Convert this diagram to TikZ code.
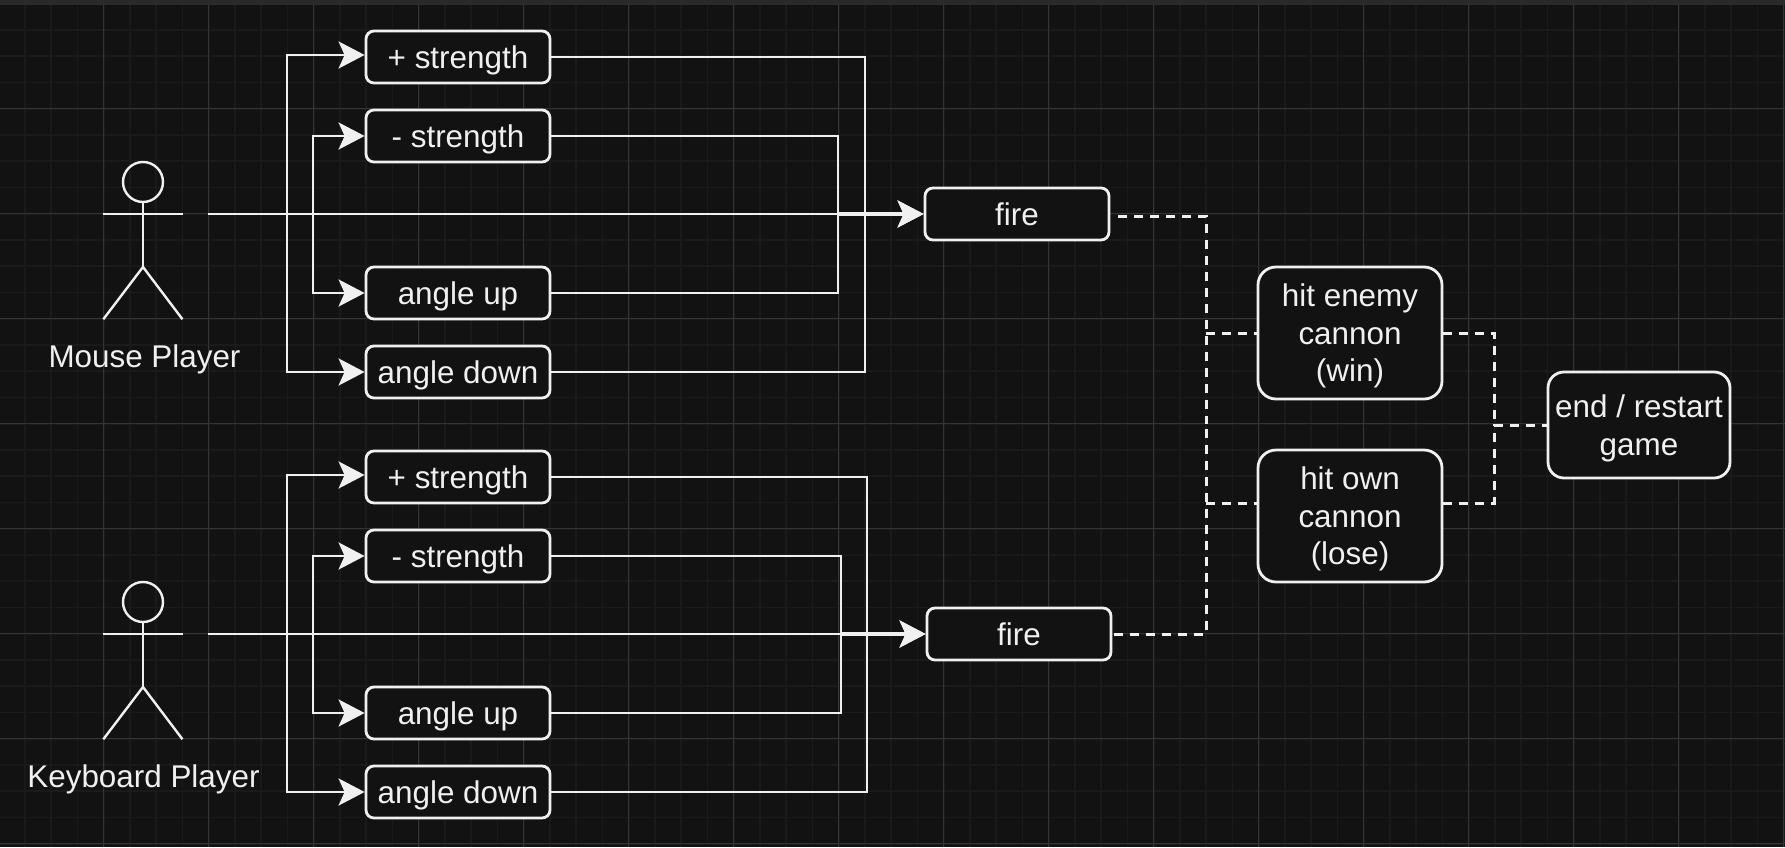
\documentclass[tikz,border=0pt]{standalone}
\usepackage{fontspec}
\setmainfont{Liberation Sans}
\usetikzlibrary{arrows.meta}
\definecolor{bgc}{HTML}{121212}
\definecolor{minorc}{HTML}{1A1A1A}
\definecolor{majorc}{HTML}{343434}
\definecolor{topc}{HTML}{2A2A2A}
\definecolor{ink}{HTML}{F0F0F0}
\newcommand\ls{\rule[-3.4pt]{0pt}{18pt}}
\tikzset{
  x=0.5pt,y=-0.5pt,
  box/.style={draw=ink,fill=bgc,line width=1.4pt,text=ink,inner sep=0pt,align=center,
    font=\fontsize{15.7}{18.8}\selectfont},
  small/.style={box,minimum width=92pt,minimum height=26pt,rounded corners=4pt},
  tall/.style={box,minimum width=92pt,minimum height=66pt,rounded corners=9pt},
  wide/.style={box,minimum width=91pt,minimum height=53pt,rounded corners=8pt},
  conn/.style={draw=ink,line width=1.4pt,-{Stealth[length=13pt,width=13.5pt,inset=3pt,fill=ink]}},
  plain/.style={draw=ink,line width=1.4pt},
  dash line/.style={draw=ink,line width=1.5pt,dash pattern=on 4.5pt off 3.5pt},
  figure/.style={draw=ink,line width=1.2pt},
  actor label/.style={text=ink,inner sep=0pt,font=\fontsize{15.7}{18.8}\selectfont},
}
\begin{document}
\begin{tikzpicture}
\useasboundingbox (0,0) rectangle (1785,847);
\fill[bgc] (0,0) rectangle (1785,847);
\fill[topc] (0,0) rectangle (1785,4.5);
% grid
\foreach \i in {0,...,68}{
  \draw[minorc,line width=0.8pt] ({25+26.25*\i},5) -- ({25+26.25*\i},847);
}
\foreach \i in {0,...,32}{
  \draw[minorc,line width=0.8pt] (0,{30+26.25*\i}) -- (1785,{30+26.25*\i});
}
\foreach \i in {0,...,16}{
  \draw[majorc,line width=0.5pt] ({103.4+105*\i},5) -- ({103.4+105*\i},847);
}
\foreach \i in {0,...,7}{
  \draw[majorc,line width=0.5pt] (0,{108.8+105*\i}) -- (1785,{108.8+105*\i});
}
% boxes, mouse player
\node[small] (plusA)  at (458,57)  {\ls + strength};
\node[small] (minusA) at (458,136) {\ls - strength};
\node[small] (upA)    at (458,293) {\ls angle up};
\node[small] (downA)  at (458,372) {\ls angle down};
\node[small] (fireA)  at (1017,214) {\ls fire};
% boxes, keyboard player
\node[small] (plusB)  at (458,477) {\ls + strength};
\node[small] (minusB) at (458,556) {\ls - strength};
\node[small] (upB)    at (458,713) {\ls angle up};
\node[small] (downB)  at (458,792) {\ls angle down};
\node[small] (fireB)  at (1019,634) {\ls fire};
% outcome boxes
\node[tall] (win)  at (1350,333) {\ls hit enemy\\cannon\\\ls (win)};
\node[tall] (lose) at (1350,516) {\ls hit own\\cannon\\\ls (lose)};
\node[wide] (endg) at (1639,425) {\ls end / restart\\\ls game};
% actors
\foreach \y/\n/\t in {0/A/Mouse Player,420/B/Keyboard Player}{
  \draw[figure] (143,{182+\y}) circle (20);
  \draw[figure] (143,{202+\y}) -- (143,{267+\y});
  \draw[figure] (103.3,{214+\y}) -- (182.5,{214+\y});
  \draw[figure] (103.3,{319.3+\y}) -- (143,{267+\y}) -- (182.5,{319.3+\y});
  \coordinate (out\n) at (208,{214+\y});
  \coordinate (upper\n) at (287,{214+\y});
  \coordinate (lower\n) at (313,{214+\y});
}
\node[actor label] (labelA) at (144.5,356) {\ls Mouse Player};
\node[actor label] (labelB) at (143.5,776) {\ls Keyboard Player};
\coordinate (outerA) at (865,214);
\coordinate (innerA) at (838,214);
\coordinate (outerB) at (867,634);
\coordinate (innerB) at (841,634);
% connectors
\foreach \n in {A,B}{
  \draw[conn] (upper\n) |- ([yshift=1pt]plus\n.west);
  \draw[conn] (upper\n) |- (down\n.west);
  \draw[conn] (lower\n) |- (minus\n.west);
  \draw[conn] (lower\n) |- (up\n.west);
  \draw[plain] (plus\n.east) -| (outer\n) |- (down\n.east);
  \draw[plain] (minus\n.east) -| (inner\n) |- (up\n.east);
  \draw[conn] (out\n) -- (out\n -| fire\n.west);
  \draw[conn,line width=1.7pt] (inner\n) -- (inner\n -| fire\n.west);
  \draw[plain,line width=2.2pt] ([xshift=26pt]inner\n) -- ([xshift=32pt]inner\n);
}
% dashed
\coordinate (fa) at ([xshift=4pt,yshift=-1pt]fireA.east);
\coordinate (fb) at ([xshift=1pt]fireB.east);
\coordinate (busL) at (1206,424);
\coordinate (busR) at (1494,424);
\draw[dash line] (fa) -| (busL);
\draw[dash line] (fb) -| (busL);
\draw[dash line] (busL |- win.west) -- (win.west);
\draw[dash line] (busL |- 0,503) -- (lose.west |- 0,503);
\draw[dash line] (win.east) -| (busR);
\draw[dash line] (lose.east |- 0,503) -| (busR);
\draw[dash line] (busR |- endg.west) -- (endg.west);
\end{tikzpicture}
\end{document}
